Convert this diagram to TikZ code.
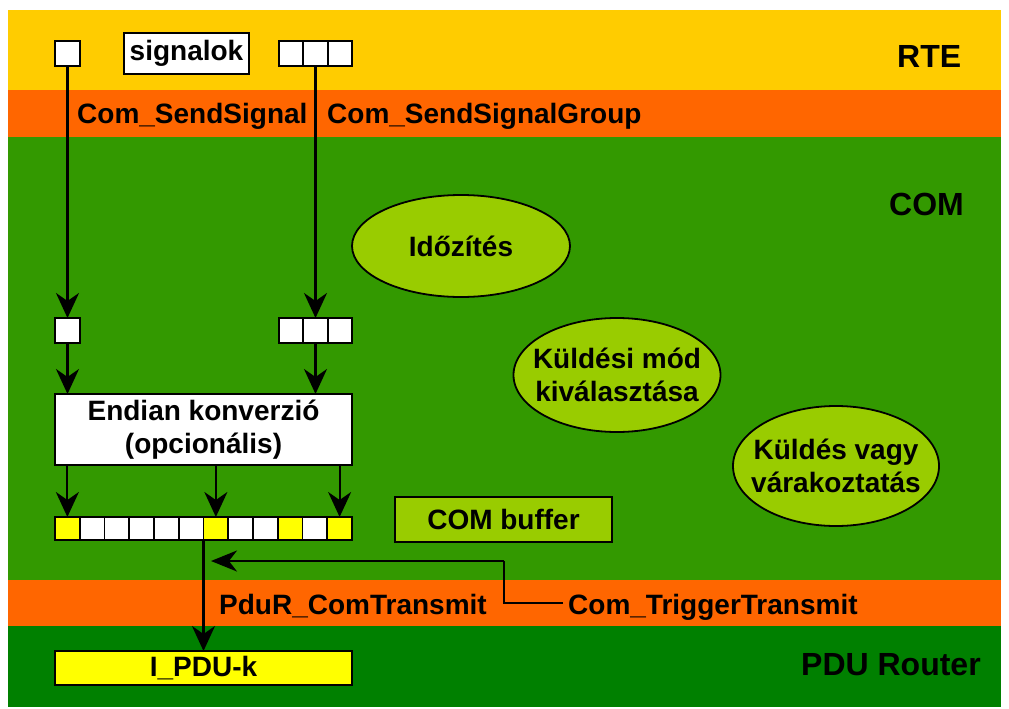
\documentclass[tikz,border=0pt]{standalone}
\usepackage{fontspec}
\setmainfont{Liberation Sans}
\usetikzlibrary{arrows.meta,shapes.geometric}
\definecolor{rteY}{HTML}{FFCC00}
\definecolor{bandO}{HTML}{FF6600}
\definecolor{comG}{HTML}{339900}
\definecolor{pduG}{HTML}{008000}
\definecolor{ellG}{HTML}{99CC00}
\definecolor{cellY}{HTML}{FFFF00}
\tikzset{
  lbl/.style={font=\fontsize{28}{33}\selectfont\bfseries, inner sep=0pt},
  big/.style={font=\fontsize{32}{38}\selectfont\bfseries, inner sep=0pt},
  cell/.style={draw=black, line width=1.8pt, fill=white, minimum width=24.75pt, minimum height=24pt, inner sep=0pt, outer sep=0pt},
  wbox/.style={draw=black, line width=2pt, fill=white, inner sep=0pt, outer sep=0pt, align=center, font=\fontsize{28}{33}\selectfont\bfseries},
  ell/.style={draw=black, line width=1.8pt, fill=ellG, ellipse, inner sep=0pt},
  etext/.style={align=center, inner sep=0pt, font=\fontsize{28}{33}\selectfont\bfseries},
  conn/.style={line width=2.2pt, -{Stealth[length=25pt, width=23pt, inset=8pt]}},
  plain/.style={line width=2.2pt}
}
\begin{document}
\begin{tikzpicture}[x=1pt, y=-1pt]
\useasboundingbox (0,0) rectangle (1009,709);
% bands
\fill[rteY] (8,10) rectangle (1001,90);
\fill[bandO] (8,90) rectangle (1001,137);
\fill[comG] (8,137) rectangle (1001,580);
\fill[bandO] (8,580) rectangle (1001,626);
\fill[pduG] (8,626) rectangle (1001,707);
% layer labels
\node[big, anchor=base west] (rte) at (897,67) {RTE};
\node[big, anchor=base west] (com) at (889,215) {COM};
\node[big, anchor=base west] (pdur) at (801,675) {PDU Router};
% API labels
\node[lbl, anchor=base west] (css) at (77,123) {Com\_SendSignal};
\node[lbl, anchor=base west] (cssg) at (327,123) {Com\_SendSignalGroup};
\node[lbl, anchor=base west] (pct) at (219,614) {PduR\_ComTransmit};
\node[lbl, anchor=base west] (ctt) at (568,614) {Com\_TriggerTransmit};
% top signals
\node[cell, minimum width=25pt, minimum height=25pt] (s1) at (67.5,53.5) {};
\node[wbox, minimum width=125pt, minimum height=41pt] (sig) at (186.5,53.5) {signalok};
\node[cell, minimum width=24.33pt, minimum height=25pt] (g1) at (291.2,53.5) {};
\node[cell, minimum width=24.33pt, minimum height=25pt] (g2) at (315.5,53.5) {};
\node[cell, minimum width=24.33pt, minimum height=25pt] (g3) at (339.8,53.5) {};
% COM copies
\node[cell, minimum width=25pt, minimum height=25pt] (m1) at (67.5,330.5) {};
\node[cell, minimum width=24.33pt, minimum height=25pt] (h1) at (291.2,330.5) {};
\node[cell, minimum width=24.33pt, minimum height=25pt] (h2) at (315.5,330.5) {};
\node[cell, minimum width=24.33pt, minimum height=25pt] (h3) at (339.8,330.5) {};
% endian box
\node[wbox, minimum width=297pt, minimum height=71pt] (end) at (203.5,429.5) {Endian konverzió\\(opcionális)};
% buffer
\foreach \i in {0,...,11} {
  \node[cell, minimum height=23pt] (b\i) at ({55+(\i+0.5)*24.75},528.5) {};
}
\foreach \i in {0,6,9,11} {
  \node[cell, fill=cellY, minimum height=23pt] (y\i) at ({55+(\i+0.5)*24.75},528.5) {};
}
\coordinate (bufbot) at (203.5,540);
% COM buffer
\node[wbox, fill=ellG, minimum width=217pt, minimum height=45pt] (cbuf) at (503.5,519.5) {COM buffer};
% ellipses
\node[ell, minimum width=218pt, minimum height=102pt] (e1) at (461,246) {};
\node[etext] (e1t) at (e1.center) {Időzítés};
\node[ell, minimum width=207pt, minimum height=114pt] (e2) at (617,375) {};
\node[etext] (e2t) at (e2.center) {Küldési mód\\kiválasztása};
\node[ell, minimum width=206pt, minimum height=120pt] (e3) at (836,466) {};
\node[etext] (e3t) at (e3.center) {Küldés vagy\\várakoztatás};
% I_PDU
\node[wbox, fill=cellY, minimum width=297pt, minimum height=34pt] (ipdu) at (203.5,668) {I\_PDU-k};
% connectors
\draw[conn] (s1.south) -- (m1.north);
\draw[conn] (g2.south) -- (h2.north);
\draw[conn] (m1.south) -- (m1.south |- end.north);
\draw[conn] (h2.south) -- (h2.south |- end.north);
\draw[conn] (b0.south |- end.south) -- (b0.north);
\draw[conn] (b6.south |- end.south) -- (b6.north);
\draw[conn] (b11.south |- end.south) -- (b11.north);
\draw[conn] (bufbot) -- (ipdu.north);
\coordinate (tstart) at (562,603);
\coordinate (tcorner1) at (504,603);
\coordinate (tcorner2) at (504,561);
\coordinate (ttip) at (211,561);
\draw[plain] (ctt.west |- tstart) ++(-5,0) -- (tcorner1) -- (tcorner2);
\draw[conn, -{Stealth[length=26pt, width=21pt, inset=8pt]}] (tcorner2) -- (ttip);
\end{tikzpicture}
\end{document}
